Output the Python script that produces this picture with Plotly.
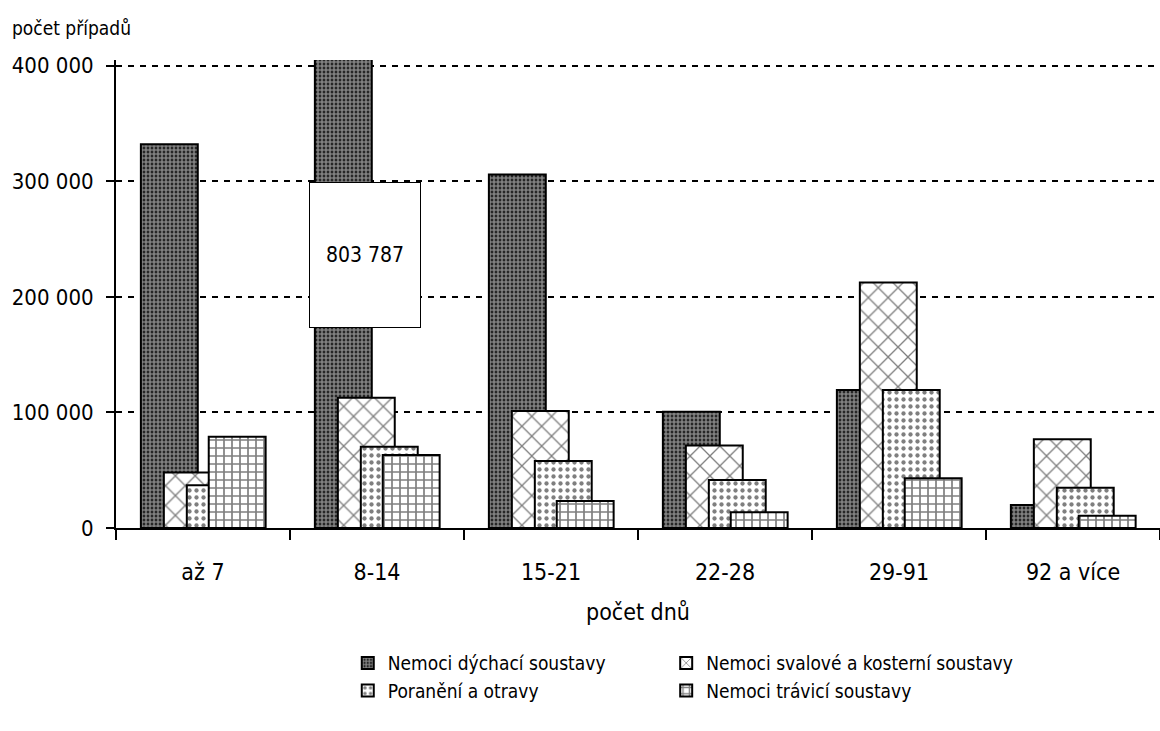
import plotly.graph_objects as go

categories = ["až 7", "8-14", "15-21", "22-28", "29-91", "92 a více"]
series_names = ["Nemoci dýchací soustavy", "Nemoci svalové a kosterní soustavy",
                "Poranění a otravy", "Nemoci trávicí soustavy"]
dychaci = [332000, 803787, 306000, 100700, 119500, 19900]
svalove = [48000, 112800, 101300, 71300, 212400, 76800]
poraneni = [37000, 70400, 58000, 41600, 119500, 34900]
travici = [79000, 63200, 23400, 13600, 43000, 10600]
values = [dychaci, svalove, poraneni, travici]

label_value = "803 787"
y_ticks = [0, 100000, 200000, 300000, 400000]

FONT = "DejaVu Sans Condensed, Liberation Sans Narrow, sans-serif"

patterns = [
    dict(shape=".", size=4, solidity=0.75, fgcolor="white", bgcolor="black"),
    dict(shape="x", size=14, solidity=0.18, fgcolor="black", bgcolor="white"),
    dict(shape=".", size=7, solidity=0.3, fgcolor="black", bgcolor="white"),
    dict(shape="+", size=8, solidity=0.38, fgcolor="black", bgcolor="white"),
]
legend_ids = ["legend", "legend2", "legend", "legend2"]
offsets = [-0.357, -0.225, -0.093, 0.033]
bar_w = 0.327

fig = go.Figure()
for name, vals, pat, off, lg in zip(series_names, values, patterns, offsets, legend_ids):
    fig.add_trace(go.Bar(
        x=categories, y=vals, name=name,
        width=bar_w, offset=off, legend=lg,
        marker=dict(color="white", pattern=pat, line=dict(color="black", width=2)),
        cliponaxis=True,
    ))

fig.add_annotation(
    x=categories[1], y=236000, xref="x", yref="y", xshift=-12,
    text=label_value, showarrow=False,
    font=dict(family=FONT, size=21, color="black"),
    bgcolor="white", bordercolor="black", borderwidth=1,
    width=108, height=142, align="center", valign="middle",
)
fig.add_annotation(
    x=(10 - 116) / 1044, y=1 + (60 - 28) / 468, xref="paper", yref="paper",
    xanchor="left", yanchor="middle",
    text="počet případů", showarrow=False,
    font=dict(family=FONT, size=19, color="black"),
)

legend_common = dict(
    orientation="v", yanchor="top", xanchor="left",
    font=dict(family=FONT, size=19, color="black"),
    tracegroupgap=0, itemwidth=30, bgcolor="rgba(0,0,0,0)",
)
fig.update_layout(
    width=1160, height=731,
    barmode="overlay",
    plot_bgcolor="white", paper_bgcolor="white",
    margin=dict(l=116, r=0, t=60, b=203),
    separators=", ",
    font=dict(family=FONT, size=20, color="black"),
    showlegend=True,
    legend=dict(x=0.222, y=-0.248, **legend_common),
    legend2=dict(x=0.527, y=-0.248, **legend_common),
)
fig.update_xaxes(
    type="category", categoryorder="array", categoryarray=categories,
    range=[-0.5, 5.5],
    showline=True, linecolor="black", linewidth=2,
    ticks="outside", tickson="boundaries", ticklen=10, tickwidth=2, tickcolor="black",
    ticklabelstandoff=22,
    tickfont=dict(family=FONT, size=23),
    showgrid=False,
    title=dict(text="počet dnů", standoff=20, font=dict(family=FONT, size=23)),
)
fig.update_yaxes(
    range=[0, 405000],
    tickvals=y_ticks, tickformat=",d",
    tickfont=dict(family=FONT, size=22),
    showline=True, linecolor="black", linewidth=2,
    ticks="outside", ticklen=8, tickwidth=2, tickcolor="black",
    ticklabelstandoff=8,
    showgrid=True, gridcolor="black", gridwidth=2, griddash="6px,6px",
    zeroline=False,
)

fig.write_html("out.html", config={"displayModeBar": False},
               post_script="document.body.style.margin='0';document.body.style.overflow='hidden';")
